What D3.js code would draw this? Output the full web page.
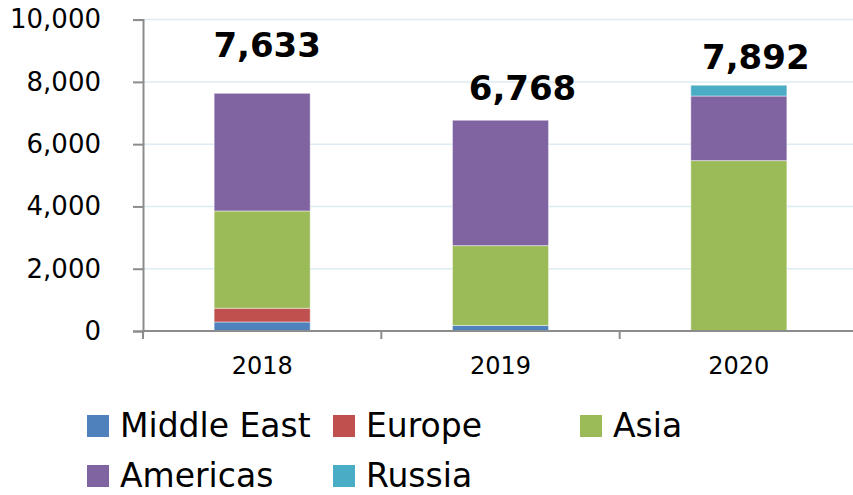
<!DOCTYPE html>
<html>
<head>
<meta charset="utf-8">
<script src="https://cdn.jsdelivr.net/npm/d3@7"></script>
<style>
  body { margin: 0; background: #fff; }
  svg { display: block; font-family: "DejaVu Sans", Verdana, sans-serif; }
</style>
</head>
<body>
<div id="chart"></div>
<script>
var years = ["2018", "2019", "2020"];
var middleEast = [290, 180, 0];
var europe = [440, 0, 0];
var asia = [3125, 2562, 5472];
var americas = [3778, 4026, 2074];
var russia = [0, 0, 346];
var totals = [7633, 6768, 7892];
var yTicks = [0, 2000, 4000, 6000, 8000, 10000];

var series = [
	{ name: "Middle East", values: middleEast, color: "#4F81BD" },
	{ name: "Europe", values: europe, color: "#C0504D" },
	{ name: "Asia", values: asia, color: "#9BBB59" },
	{ name: "Americas", values: americas, color: "#8064A2" },
	{ name: "Russia", values: russia, color: "#4BACC6" }
];

// hand placed total labels in the original, nudge from bar centre / top
var labelNudge = [{ dx: 5, dy: -36 }, { dx: 22, dy: -20 }, { dx: 17, dy: -16 }];

var width = 853, height = 495;
var plotLeft = 143, plotRight = 858, plotTop = 19.6, plotBottom = 331;

var svg = d3.select("#chart").append("svg")
	.attr("width", width)
	.attr("height", height);

var x = d3.scaleBand()
	.domain(years)
	.range([plotLeft, plotRight])
	.paddingInner(0.597)
	.paddingOuter(0.2985);

var y = d3.scaleLinear()
	.domain([0, 10000])
	.range([plotBottom, plotTop]);

// gridlines
svg.append("g")
	.selectAll("line")
	.data(yTicks.filter(function(d) { return d > 0; }))
	.enter().append("line")
	.attr("x1", plotLeft)
	.attr("x2", width)
	.attr("y1", function(d) { return y(d); })
	.attr("y2", function(d) { return y(d); })
	.attr("stroke", "#dcecf4")
	.attr("stroke-width", 1.5);

// stacked bars
var rows = years.map(function(yr, i) {
	var r = { year: yr };
	series.forEach(function(s) { r[s.name] = s.values[i]; });
	return r;
});
var stack = d3.stack().keys(series.map(function(s) { return s.name; }));
var layers = stack(rows);

svg.append("g")
	.selectAll("g")
	.data(layers)
	.enter().append("g")
	.attr("fill", function(d, i) { return series[i].color; })
	.selectAll("rect")
	.data(function(d) { return d.filter(function(p) { return p[1] - p[0] > 0; }); })
	.enter().append("rect")
	.attr("x", function(d) { return x(d.data.year); })
	.attr("width", x.bandwidth())
	.attr("y", function(d) { return y(d[1]); })
	.attr("height", function(d) { return y(d[0]) - y(d[1]); })
	.attr("stroke", "rgba(255,255,255,0.45)")
	.attr("stroke-width", 1);

// y axis
var yAxis = d3.axisLeft(y)
	.tickValues(yTicks)
	.tickSize(10)
	.tickPadding(32)
	.tickFormat(d3.format(","));

var yg = svg.append("g")
	.attr("transform", "translate(" + plotLeft + ",0)")
	.call(yAxis);
yg.select(".domain").attr("stroke", "#8c8c8c").attr("stroke-width", 2);
yg.selectAll(".tick line").attr("stroke", "#8c8c8c").attr("stroke-width", 2);
yg.selectAll(".tick text")
	.attr("font-size", 26)
	.attr("font-family", "DejaVu Sans")
	.attr("fill", "#000");

// x axis
svg.append("line")
	.attr("x1", plotLeft - 1)
	.attr("x2", width)
	.attr("y1", plotBottom)
	.attr("y2", plotBottom)
	.attr("stroke", "#8c8c8c")
	.attr("stroke-width", 2);

svg.append("g")
	.selectAll("line")
	.data(years)
	.enter().append("line")
	.attr("x1", function(d) { return x(d) - x.step() * x.paddingOuter(); })
	.attr("x2", function(d) { return x(d) - x.step() * x.paddingOuter(); })
	.attr("y1", plotBottom)
	.attr("y2", plotBottom + 8)
	.attr("stroke", "#8c8c8c")
	.attr("stroke-width", 2);

svg.append("g")
	.selectAll("text")
	.data(years)
	.enter().append("text")
	.attr("x", function(d) { return x(d) + x.bandwidth() / 2; })
	.attr("y", 374)
	.attr("text-anchor", "middle")
	.attr("font-size", 24)
	.text(function(d) { return d; });

// totals
svg.append("g")
	.selectAll("text")
	.data(totals)
	.enter().append("text")
	.attr("x", function(d, i) { return x(years[i]) + x.bandwidth() / 2 + labelNudge[i].dx; })
	.attr("y", function(d, i) { return y(d) + labelNudge[i].dy; })
	.attr("text-anchor", "middle")
	.attr("font-size", 34)
	.attr("font-weight", "bold")
	.text(function(d) { return d3.format(",")(d); });

// legend
var legendPos = [
	{ x: 87, y: 437 }, { x: 333, y: 437 }, { x: 580, y: 437 },
	{ x: 87, y: 487 }, { x: 333, y: 487 }
];

var legend = svg.append("g")
	.selectAll("g")
	.data(series)
	.enter().append("g")
	.attr("transform", function(d, i) { return "translate(" + legendPos[i].x + "," + legendPos[i].y + ")"; });

legend.append("rect")
	.attr("x", 0)
	.attr("y", -22)
	.attr("width", 22)
	.attr("height", 22)
	.attr("fill", function(d) { return d.color; });

legend.append("text")
	.attr("x", 33)
	.attr("y", 0)
	.attr("font-size", 33)
	.text(function(d) { return d.name; });
</script>
</body>
</html>
